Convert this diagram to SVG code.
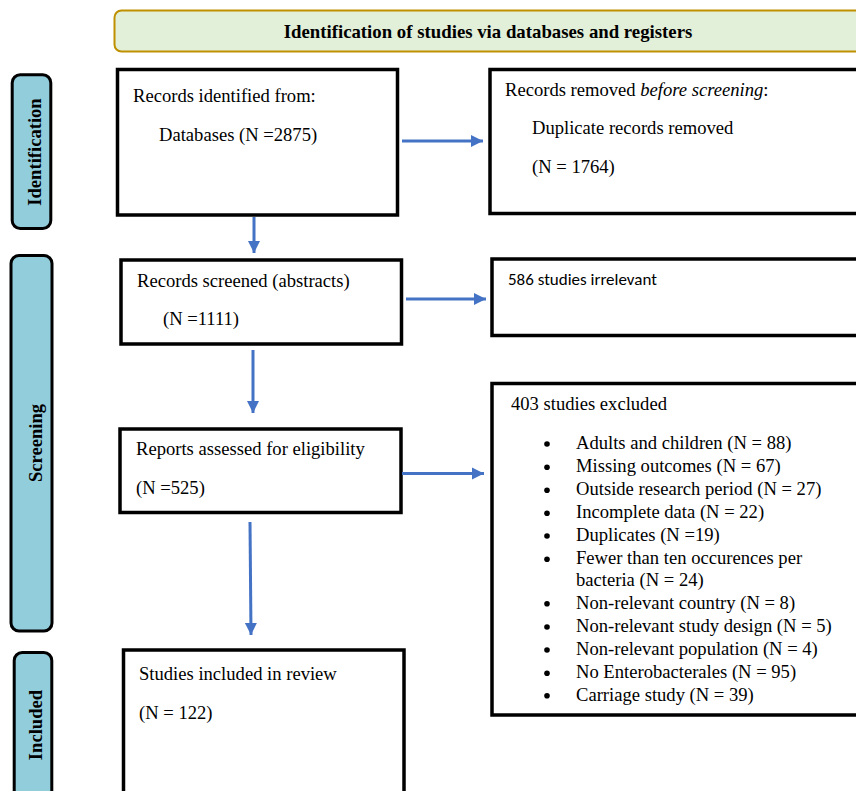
<svg xmlns="http://www.w3.org/2000/svg" width="856" height="791" viewBox="0 0 856 791">
<style>
.box{fill:#fff;stroke:#000;stroke-width:3.5}
.side{fill:#92cddc;stroke:#000;stroke-width:3}
.t{font-family:"Liberation Serif","Times New Roman",serif;font-size:18.6px;fill:#000}
.b{font-weight:bold}
.h{font-size:18.8px}
.sans{font-family:Carlito,Calibri,"Liberation Sans",Arial,sans-serif;font-size:17px;fill:#000}
.arr{stroke:#4472c4;stroke-width:3;fill:none;marker-end:url(#ah)}
</style>
<defs>
<marker id="ah" markerUnits="userSpaceOnUse" markerWidth="14" markerHeight="14" viewBox="0 0 14 14" refX="12" refY="7" orient="auto">
<path d="M0,1 L12,7 L0,13 Z" fill="#4472c4"/>
</marker>
</defs>
<rect width="856" height="791" fill="#fff"/>
<g id="header">
<rect x="114.5" y="10.5" width="760" height="41" rx="7" fill="#e2efd9" stroke="#bf9000" stroke-width="2"/>
<text class="t b h" x="488" y="37.5" text-anchor="middle">Identification of studies via databases and registers</text>
</g>
<g id="side-identification">
<rect class="side" x="12.2" y="74.8" width="38.6" height="153.7" rx="8"/>
<text class="t b" transform="translate(41,152) rotate(-90)" text-anchor="middle">Identification</text>
</g>
<g id="side-screening">
<rect class="side" x="11" y="255.5" width="41" height="375.5" rx="8"/>
<text class="t b" transform="translate(42,443) rotate(-90)" text-anchor="middle">Screening</text>
</g>
<g id="side-included">
<rect class="side" x="14.2" y="652.5" width="37.6" height="170" rx="8"/>
<text class="t b" transform="translate(42,725) rotate(-90)" text-anchor="middle">Included</text>
</g>
<g id="records-identified">
<rect class="box" x="117.5" y="69.5" width="280" height="145.5"/>
<text class="t" x="133" y="102">Records identified from:</text>
<text class="t" x="159" y="141">Databases (N =2875)</text>
</g>
<g id="records-removed">
<rect class="box" x="490" y="69.5" width="380" height="144"/>
<text class="t" x="505" y="96">Records removed <tspan font-style="italic">before screening</tspan>:</text>
<text class="t" x="532" y="134">Duplicate records removed</text>
<text class="t" x="532" y="173">(N = 1764)</text>
</g>
<g id="records-screened">
<rect class="box" x="121" y="260" width="280.5" height="84"/>
<text class="t" x="137" y="287">Records screened (abstracts)</text>
<text class="t" x="163" y="325">(N =1111)</text>
</g>
<g id="irrelevant">
<rect class="box" x="492" y="259" width="380" height="76.5"/>
<text class="sans" x="508" y="284.5">586 studies irrelevant</text>
</g>
<g id="reports-assessed">
<rect class="box" x="120" y="429" width="281" height="83.5"/>
<text class="t" x="136" y="455">Reports assessed for eligibility</text>
<text class="t" x="136" y="493.5">(N =525)</text>
</g>
<g id="excluded">
<rect class="box" x="492" y="383.5" width="380" height="331.5"/>
<text class="t" x="511" y="409.5">403 studies excluded</text>
<g fill="#000">
<circle cx="547" cy="444" r="2.8"/>
<circle cx="547" cy="467.3" r="2.8"/>
<circle cx="547" cy="490.3" r="2.8"/>
<circle cx="547" cy="513.3" r="2.8"/>
<circle cx="547" cy="536" r="2.8"/>
<circle cx="547" cy="559.3" r="2.8"/>
<circle cx="547" cy="603.7" r="2.8"/>
<circle cx="547" cy="627" r="2.8"/>
<circle cx="547" cy="650" r="2.8"/>
<circle cx="547" cy="673.3" r="2.8"/>
<circle cx="547" cy="695.7" r="2.8"/>
</g>
<text class="t" x="576" y="449">Adults and children (N = 88)</text>
<text class="t" x="576" y="472.3">Missing outcomes (N = 67)</text>
<text class="t" x="576" y="495.3">Outside research period (N = 27)</text>
<text class="t" x="576" y="518.3">Incomplete data (N = 22)</text>
<text class="t" x="576" y="541">Duplicates (N =19)</text>
<text class="t" x="576" y="564.3">Fewer than ten occurences per</text>
<text class="t" x="576" y="585.5">bacteria (N = 24)</text>
<text class="t" x="576" y="608.7">Non-relevant country (N = 8)</text>
<text class="t" x="576" y="632">Non-relevant study design (N = 5)</text>
<text class="t" x="576" y="655">Non-relevant population (N = 4)</text>
<text class="t" x="576" y="678.3">No Enterobacterales (N = 95)</text>
<text class="t" x="576" y="700.7">Carriage study (N = 39)</text>
</g>
<g id="studies-included">
<rect class="box" x="123.5" y="650" width="280.5" height="160"/>
<text class="t" x="139" y="680">Studies included in review</text>
<text class="t" x="139" y="718.5">(N = 122)</text>
</g>
<g id="connectors">
<line class="arr" x1="402" y1="141" x2="483" y2="141"/>
<line class="arr" x1="254" y1="217" x2="254" y2="253"/>
<line class="arr" x1="406" y1="299" x2="486" y2="299"/>
<line class="arr" x1="253" y1="350" x2="253" y2="413"/>
<line class="arr" x1="402" y1="473.5" x2="484" y2="473.5"/>
<line class="arr" x1="250" y1="522" x2="251" y2="635"/>
</g>
</svg>
